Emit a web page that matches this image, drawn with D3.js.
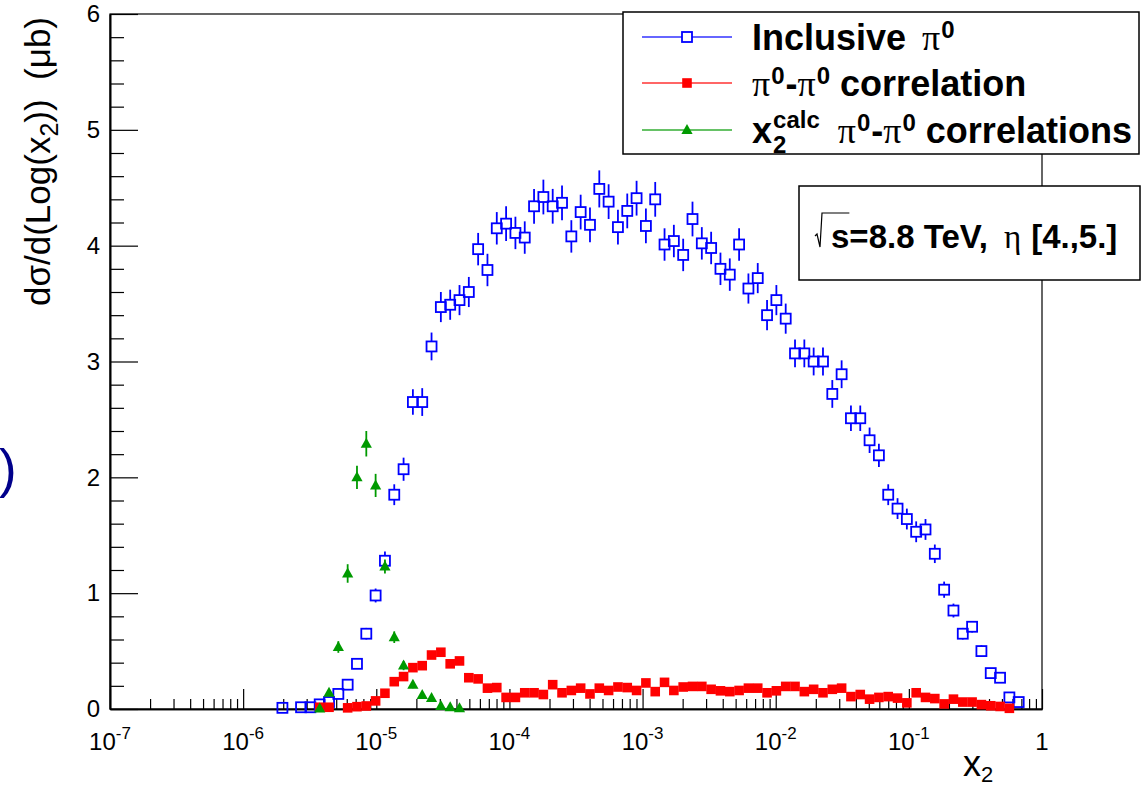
<!DOCTYPE html>
<html>
<head>
<meta charset="utf-8">
<script src="https://cdn.jsdelivr.net/npm/d3@7"></script>
<style>
  body { margin: 0; background: #fff; }
  svg { display: block; }
</style>
</head>
<body>
<div id="chart"></div>
<script>
// histogram binning: 100 bins in log10(x2) from -7 to 0
var nBins = 100;
var logMin = -7;
var logMax = 0;

// inclusive pi0 (open blue squares), first bin 18
var incFirst = 18;
var incVals = [0.01, null, 0.015, 0.015, 0.04, 0.06, 0.13, 0.21, 0.39, 0.65,
               0.98, 1.28, 1.85, 2.07, 2.65, 2.65, 3.13, 3.47, 3.49, 3.53,
               3.60, 3.97, 3.79, 4.15, 4.19, 4.11, 4.07, 4.34, 4.42, 4.34,
               4.37, 4.08, 4.29, 4.18, 4.49, 4.38, 4.16, 4.30, 4.41, 4.17,
               4.40, 4.01, 4.04, 3.92, 4.23, 4.02, 3.98, 3.80, 3.75, 4.01,
               3.63, 3.72, 3.40, 3.53, 3.37, 3.07, 3.07, 3.00, 3.00, 2.72,
               2.89, 2.51, 2.51, 2.32, 2.19, 1.85, 1.73, 1.64, 1.53, 1.55,
               1.34, 1.03, 0.85, 0.65, 0.71, 0.50, 0.31, 0.27, 0.10, 0.06];
var incErr = [0.01, null, 0.01, 0.01, 0.015, 0.02, 0.025, 0.03, 0.04, 0.05,
              0.06, 0.08, 0.09, 0.10, 0.11, 0.12, 0.12, 0.13, 0.13, 0.13,
              0.13, 0.14, 0.14, 0.14, 0.15, 0.14, 0.14, 0.15, 0.15, 0.15,
              0.15, 0.14, 0.15, 0.15, 0.16, 0.15, 0.15, 0.15, 0.15, 0.15,
              0.15, 0.14, 0.14, 0.14, 0.15, 0.14, 0.14, 0.14, 0.14, 0.14,
              0.13, 0.13, 0.13, 0.13, 0.13, 0.12, 0.12, 0.12, 0.12, 0.12,
              0.12, 0.11, 0.11, 0.11, 0.10, 0.09, 0.09, 0.09, 0.09, 0.09,
              0.08, 0.07, 0.06, 0.05, 0.05, 0.05, 0.04, 0.03, 0.02, 0.02];

// pi0-pi0 correlation (filled red squares), first bin 22
var corrFirst = 22;
var corrVals = [0.015, 0.015, null, 0.01, 0.02, 0.026, 0.07, 0.136, 0.236, 0.28,
                0.357, 0.374, 0.466, 0.49, 0.39, 0.415, 0.27, 0.26, 0.18, 0.185,
                0.10, 0.10, 0.14, 0.14, 0.125, 0.21, 0.14, 0.16, 0.18, 0.13,
                0.18, 0.16, 0.19, 0.185, 0.16, 0.225, 0.15, 0.23, 0.16, 0.19,
                0.195, 0.195, 0.17, 0.157, 0.15, 0.16, 0.18, 0.18, 0.14, 0.157,
                0.195, 0.195, 0.15, 0.17, 0.14, 0.17, 0.18, 0.107, 0.125, 0.085,
                0.10, 0.107, 0.094, 0.053, 0.14, 0.10, 0.09, 0.044, 0.085, 0.06,
                0.06, 0.038, 0.028, 0.022, 0.006];

// x2 calc pi0-pi0 correlations (green triangles), first bin 22
var calcFirst = 22;
var calcVals = [0.005, 0.14, 0.535, 1.17, 2.0, 2.29, 1.93, 1.23, 0.62, 0.375,
                0.21, 0.12, 0.095, 0.025, 0.015, 0.006];
var calcErr = [0.01, 0.03, 0.05, 0.08, 0.10, 0.11, 0.10, 0.06, 0.05, 0.04,
               0.03, 0.02, 0.02, 0.01, 0.01, 0.01];

var yTicks = [0, 1, 2, 3, 4, 5, 6];
var legendLabels = ["Inclusive", "correlation", "correlations"];
var infoLabel = ["s", "=8.8 TeV,", "\u03b7", "[4.,5.]"];

var sans = "'Liberation Sans', Arial, Helvetica, sans-serif";
var serif = "'Liberation Serif', 'Times New Roman', serif";
var blue = "#0000ff", red = "#ff0000", green = "#009a00";

function toPoints(first, vals, errs) {
    var out = [];
    vals.forEach(function(v, k) {
        if (v === null) return;
        var bin = first + k;
        var lc = logMin + (logMax - logMin) * (bin + 0.5) / nBins;
        out.push({x: Math.pow(10, lc), v: v, e: errs ? errs[k] : 0});
    });
    return out;
}

function init() {
    var w = 1145, h = 791;
    var svg = d3.select("#chart").append("svg")
                .attr("width", w).attr("height", h);

    var x = d3.scaleLog().domain([1e-7, 1]).range([110, 1042]);
    var y = d3.scaleLinear().domain([0, 6]).range([709, 14]);

    // frame
    svg.append("rect")
       .attr("x", x.range()[0]).attr("y", y(6))
       .attr("width", x.range()[1] - x.range()[0]).attr("height", y(0) - y(6))
       .attr("fill", "none").attr("stroke", "#000").attr("stroke-width", 1.2);

    // x axis: minor and major ticks pointing inward
    var all = x.ticks();
    var isMajor = function(d) {
        var l = Math.log10(d);
        return Math.abs(l - Math.round(l)) < 1e-9;
    };
    var gx = svg.append("g").attr("transform", "translate(0," + y(0) + ")");
    gx.append("g").call(d3.axisBottom(x).tickValues(all.filter(function(d) { return !isMajor(d); }))
                       .tickSize(-10).tickSizeOuter(0).tickFormat(""));
    gx.append("g").call(d3.axisBottom(x).tickValues(all.filter(isMajor))
                       .tickSize(-20).tickSizeOuter(0).tickFormat(""));
    gx.selectAll("path.domain").attr("stroke-width", 1.6);
    gx.selectAll(".tick line").attr("stroke-width", 1.2);

    var xl = svg.append("g").attr("font-family", sans).attr("fill", "#000");
    all.filter(isMajor).forEach(function(d) {
        var k = Math.round(Math.log10(d));
        var t = xl.append("text").attr("x", x(d)).attr("y", 750)
                  .attr("text-anchor", "middle").attr("font-size", 24);
        if (k === 0) {
            t.text("1");
        } else {
            t.append("tspan").text("10");
            t.append("tspan").attr("dy", -11).attr("font-size", 17).text(k);
        }
    });

    // y axis
    var minorY = d3.range(0, 6.001, 0.2).filter(function(d) { return Math.abs(d - Math.round(d)) > 1e-6; });
    var gy = svg.append("g").attr("transform", "translate(" + x.range()[0] + ",0)");
    gy.append("g").call(d3.axisLeft(y).tickValues(minorY).tickSize(-14).tickSizeOuter(0).tickFormat(""));
    var gyMaj = gy.append("g").call(d3.axisLeft(y).tickValues(yTicks).tickSize(-28)
                                       .tickSizeOuter(0).tickPadding(10).tickFormat(d3.format("d")));
    gy.selectAll("path.domain").attr("stroke-width", 1.6);
    gy.selectAll(".tick line").attr("stroke-width", 1.2);
    gyMaj.selectAll("text").attr("font-size", 24).attr("font-family", sans).attr("fill", "#000");

    // axis titles
    var yt = svg.append("text").attr("transform", "translate(50,17) rotate(-90)")
                .attr("text-anchor", "end").attr("font-family", sans).attr("font-size", 35)
                .style("white-space", "pre");
    yt.append("tspan").text("d\u03c3/d(Log(x");
    yt.append("tspan").attr("dy", 8).attr("font-size", 25).text("2");
    yt.append("tspan").attr("dy", -8).text("))  (\u03bcb)");

    var xt = svg.append("text").attr("x", 963).attr("y", 776)
                .attr("font-family", sans).attr("font-size", 36);
    xt.append("tspan").text("x");
    xt.append("tspan").attr("dy", 6).attr("font-size", 22).text("2");

    // data
    var inc = toPoints(incFirst, incVals, incErr);
    var corr = toPoints(corrFirst, corrVals, null);
    var calc = toPoints(calcFirst, calcVals, calcErr);

    var gInc = svg.append("g");
    var hs = 5;
    inc.forEach(function(p) {
        var cx = x(p.x), cy = y(p.v);
        var top = y(p.v + p.e), bot = y(Math.max(0, p.v - p.e));
        if (top < cy - hs) gInc.append("line").attr("x1", cx).attr("x2", cx).attr("y1", top).attr("y2", cy - hs);
        if (bot > cy + hs) gInc.append("line").attr("x1", cx).attr("x2", cx).attr("y1", cy + hs).attr("y2", bot);
        gInc.append("rect").attr("x", cx - hs).attr("y", cy - hs).attr("width", 2 * hs).attr("height", 2 * hs);
    });
    gInc.selectAll("line").attr("stroke", blue).attr("stroke-width", 1.8);
    gInc.selectAll("rect").attr("fill", "none").attr("stroke", blue).attr("stroke-width", 1.8);

    svg.append("g").selectAll("rect").data(corr).enter().append("rect")
       .attr("x", function(d) { return x(d.x) - 4.8; })
       .attr("y", function(d) { return y(d.v) - 4.8; })
       .attr("width", 9.6).attr("height", 9.6)
       .attr("fill", red);

    var tri = "M0,-6L5.6,4L-5.6,4Z";
    var gCalc = svg.append("g");
    gCalc.selectAll("line").data(calc).enter().append("line")
         .attr("x1", function(d) { return x(d.x); })
         .attr("x2", function(d) { return x(d.x); })
         .attr("y1", function(d) { return y(d.v + d.e); })
         .attr("y2", function(d) { return y(Math.max(0, d.v - d.e)); })
         .attr("stroke", green).attr("stroke-width", 1.8);
    gCalc.selectAll("path").data(calc).enter().append("path")
         .attr("d", tri)
         .attr("transform", function(d) { return "translate(" + x(d.x) + "," + y(d.v) + ")"; })
         .attr("fill", green);

    // text runs laid out one after another
    function flow(g, x0, y0, parts) {
        var cx = x0;
        parts.forEach(function(p) {
            var t = g.append("text").attr("x", cx).attr("y", y0 + (p.dy || 0))
                     .attr("font-family", p.serif ? serif : sans)
                     .attr("font-size", p.size)
                     .attr("font-weight", p.bold ? "bold" : "normal")
                     .style("white-space", "pre").text(p.t);
            if (!p.stay) cx += t.node().getComputedTextLength() + (p.gap || 0);
        });
        return cx;
    }

    // legend
    var lg = svg.append("g");
    lg.append("rect").attr("x", 623).attr("y", 12).attr("width", 516).attr("height", 142)
      .attr("fill", "#fff").attr("stroke", "#000").attr("stroke-width", 1.5);
    var rows = [37, 83, 130];
    var cols = [blue, red, green];
    rows.forEach(function(ry, i) {
        lg.append("line").attr("x1", 642).attr("x2", 732).attr("y1", ry).attr("y2", ry)
          .attr("stroke", cols[i]).attr("stroke-width", 1.4).attr("opacity", 0.8);
    });
    lg.append("rect").attr("x", 687 - hs).attr("y", rows[0] - hs).attr("width", 2 * hs).attr("height", 2 * hs)
      .attr("fill", "#fff").attr("stroke", blue).attr("stroke-width", 1.8);
    lg.append("rect").attr("x", 687 - 4.8).attr("y", rows[1] - 4.8).attr("width", 9.6).attr("height", 9.6)
      .attr("fill", red);
    lg.append("path").attr("d", tri).attr("transform", "translate(687," + rows[2] + ")").attr("fill", green);

    var big = 36, small = 24;
    var pipi = [
        {t: "\u03c0", serif: true, size: big, gap: 1},
        {t: "0", bold: true, size: small, dy: -12, gap: 1},
        {t: "-", bold: true, size: big},
        {t: "\u03c0", serif: true, size: big, gap: 1},
        {t: "0", bold: true, size: small, dy: -12}
    ];
    flow(lg, 752, rows[0] + 13, [
        {t: legendLabels[0], bold: true, size: big, gap: 16},
        {t: "\u03c0", serif: true, size: big, gap: 1},
        {t: "0", bold: true, size: small, dy: -12}
    ]);
    flow(lg, 752, rows[1] + 13, pipi.concat([{t: " " + legendLabels[1], bold: true, size: big}]));
    flow(lg, 752, rows[2] + 13, [
        {t: "x", bold: true, size: big, gap: 1},
        {t: "2", bold: true, size: small, dy: 10, stay: true},
        {t: "calc", bold: true, size: small, dy: -15, gap: 18}
    ].concat(pipi).concat([{t: " " + legendLabels[2], bold: true, size: big, gap: 0}]));

    // info box
    var ib = svg.append("g");
    ib.append("rect").attr("x", 799).attr("y", 186).attr("width", 341).attr("height", 94)
      .attr("fill", "#fff").attr("stroke", "#000").attr("stroke-width", 1.5);
    var bx = 815, by = 248, fs = 33;
    var sEnd = flow(ib, bx + 16, by, [{t: infoLabel[0], bold: true, size: fs}]);
    ib.append("path")
      .attr("d", "M" + bx + "," + (by - 12) + "L" + (bx + 2) + "," + (by - 14) + "L" + (bx + 5) + "," + (by - 1)
                 + "L" + (bx + 7) + "," + (by - 35) + "L" + sEnd + "," + (by - 35))
      .attr("fill", "none").attr("stroke", "#000").attr("stroke-width", 1.2);
    flow(ib, sEnd, by, [
        {t: infoLabel[1], bold: true, size: fs, gap: 16},
        {t: infoLabel[2], serif: true, size: fs, gap: 10},
        {t: infoLabel[3], bold: true, size: fs}
    ]);

    // stray bracket at the left edge of the slide
    svg.append("text").attr("x", -1).attr("y", 487)
       .attr("font-family", sans).attr("font-size", 53).attr("fill", "#00008b").text(")");
}
window.onload = init;
</script>
</body>
</html>
